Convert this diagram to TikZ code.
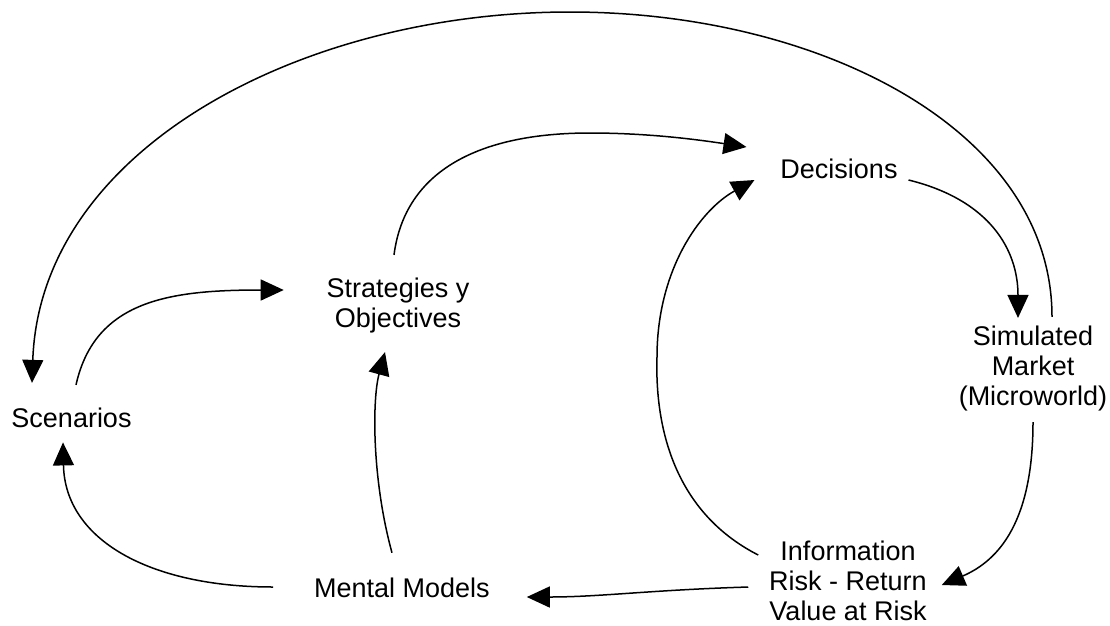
\documentclass[tikz,border=0pt]{standalone}
\usepackage{fontspec}
\setmainfont{Liberation Sans}
\usetikzlibrary{arrows.meta}
\tikzset{
  lbl/.style={inner sep=0pt, outer sep=0pt, align=center, font=\fontsize{27pt}{30pt}\selectfont},
  conn/.style={line width=1.5pt, -{Triangle[length=23pt,width=21pt]}}
}
\begin{document}
\begin{tikzpicture}[x=1pt,y=-1pt]
\useasboundingbox (0,0) rectangle (1110,625);
\node[lbl] (scen) at (71.5,417.5) {Scenarios};
\node[lbl] (strat) at (398,305.2) {Strategies y\\Objectives};
\node[lbl] (dec) at (839,168.4) {Decisions};
\node[lbl] (sim) at (1033,368.2) {Simulated\\Market\\(Microworld)};
\node[lbl] (info) at (848,581.3) {Information\\Risk - Return\\Value at Risk};
\node[lbl] (ment) at (402,587.4) {Mental Models};
% Scenarios -> Strategies
\draw[conn] ([xshift=4.5pt,yshift=22.7pt]scen.north) .. controls (95,300) and (170,290) .. ([xshift=-43pt,yshift=15.2pt]strat.west);
% Strategies -> Decisions
\draw[conn] ([xshift=-4pt,yshift=22.7pt]strat.north) .. controls (405,170) and (480,133) .. (590,133) .. controls (650,133) and (700,140) .. ([xshift=-34pt,yshift=21.4pt]dec.west);
% Information -> Decisions
\draw[conn] ([xshift=-11pt,yshift=26.3pt]info.west) .. controls (670,510) and (655,420) .. (657,357) .. controls (657,270) and (700,210) .. ([xshift=-26pt,yshift=-11.6pt]dec.west);
% Decisions -> Simulated Market
\draw[conn] ([xshift=11pt,yshift=-11.6pt]dec.east) .. controls (990,200) and (1018,250) .. ([xshift=-15pt,yshift=7.7pt]sim.north);
% Simulated Market -> Scenarios (outer arc)
\draw[conn] ([xshift=19pt,yshift=8.7pt]sim.north) .. controls (1052,130) and (820,12) .. (570,12) .. controls (300,12) and (40,150) .. ([xshift=-39.5pt,yshift=24.7pt]scen.north);
% Simulated Market -> Information
\draw[conn] ([yshift=-11.3pt]sim.south) .. controls (1033,520) and (1000,560) .. ([xshift=15pt,yshift=-3.7pt]info.east);
% Information -> Mental Models
\draw[conn] ([xshift=-21pt,yshift=-5.7pt]info.west) .. controls (650,590) and (600,597) .. ([xshift=37pt,yshift=-9.6pt]ment.east);
% Mental Models -> Scenarios
\draw[conn] ([xshift=-41pt,yshift=0.4pt]ment.west) .. controls (150,587) and (65,540) .. ([xshift=-8.5pt,yshift=-15pt]scen.south);
% Mental Models -> Strategies
\draw[conn] ([xshift=-10pt,yshift=24.7pt]ment.north) .. controls (372,480) and (372,400) .. ([xshift=-13pt,yshift=-19.3pt]strat.south);
\end{tikzpicture}
\end{document}
